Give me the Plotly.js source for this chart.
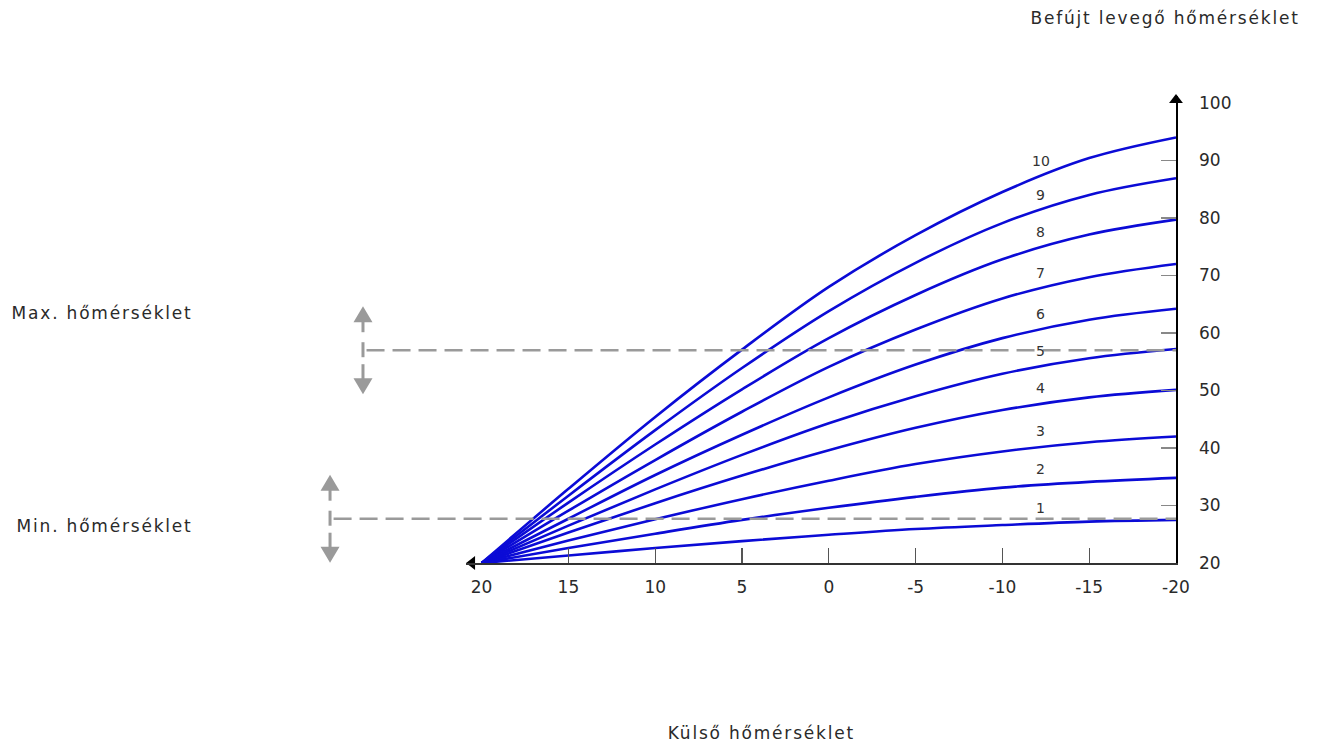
<!DOCTYPE html>
<html>
<head>
<meta charset="utf-8">
<script src="https://cdn.plot.ly/plotly-3.0.1.min.js"></script>
<style>
html,body{margin:0;padding:0;background:#fff;}
#chart{width:1318px;height:742px;}
#chart g.annotation[data-index="0"] text,
#chart g.annotation[data-index="1"] text,
#chart g.annotation[data-index="2"] text,
#chart g.annotation[data-index="3"] text{letter-spacing:1.8px;}
</style>
</head>
<body>
<div id="chart"></div>
<script>
// ---- data ----
const outsideTemps = [20, 15, 10, 5, 0, -5, -10, -15, -20];
const curveNames = ['1','2','3','4','5','6','7','8','9','10'];
const curve1  = [20, 21.3, 22.6, 23.8, 24.9, 25.9, 26.6, 27.2, 27.5];
const curve2  = [20, 22.6, 25.1, 27.5, 29.6, 31.5, 33.1, 34.1, 34.8];
const curve3  = [20, 23.9, 27.6, 31.1, 34.3, 37.2, 39.4, 41.0, 42.0];
const curve4  = [20, 25.3, 30.4, 35.2, 39.6, 43.5, 46.6, 48.8, 50.1];
const curve5  = [20, 26.5, 32.8, 38.8, 44.3, 49.0, 52.9, 55.6, 57.2];
const curve6  = [20, 27.7, 35.3, 42.3, 48.8, 54.5, 59.1, 62.3, 64.2];
const curve7  = [20, 29.1, 37.9, 46.3, 54.1, 60.6, 66.0, 69.7, 72.0];
const curve8  = [20, 30.5, 40.6, 50.2, 59.1, 66.6, 72.8, 77.1, 79.7];
const curve9  = [20, 31.7, 43.1, 53.9, 63.8, 72.2, 79.1, 84.0, 86.9];
const curve10 = [20, 32.9, 45.4, 57.1, 68.0, 77.0, 84.5, 90.4, 94.0];
const curves = [curve1, curve2, curve3, curve4, curve5, curve6, curve7, curve8, curve9, curve10];

const xTickVals = [20, 15, 10, 5, 0, -5, -10, -15, -20];
const xInnerTicks = [15, 10, 5, 0, -5, -10, -15];
const yTickVals = [20, 30, 40, 50, 60, 70, 80, 90, 100];
const yInnerTicks = [30, 40, 50, 60, 70, 80, 90];
const maxTemp = 57.0;
const minTemp = 27.7;
const labelX = -12.2;

const xTitle = 'Külső hőmérséklet';
const yTitle = 'Befújt levegő hőmérséklet';
const maxLabel = 'Max. hőmérséklet';
const minLabel = 'Min. hőmérséklet';

// ---- styling ----
const FONT = '"DejaVu Sans", "Open Sans", sans-serif';
const TXT = '#2a2a2a';
const BLUE = '#0b0bd6';
const GREY = '#9a9a9a';
const AXC = '#333333';
const xRange = [20.9, -20];
const yRange = [20, 101.2];
const toPaperY = v => (v - yRange[0]) / (yRange[1] - yRange[0]);

const traces = curves.map((c, i) => ({
  type: 'scatter', mode: 'lines',
  x: outsideTemps, y: c, name: curveNames[i],
  line: {color: BLUE, width: 2.6, shape: 'spline', smoothing: 1},
  hoverinfo: 'skip', showlegend: false
}));

// arrowheads at the axis ends (on the overlay axes)
traces.push({
  type: 'scatter', mode: 'markers', xaxis: 'x2', yaxis: 'y2',
  x: [xRange[0] - 0.35, -20], y: [20, yRange[1] - 0.7],
  marker: {symbol: ['triangle-left', 'triangle-up'], size: 12, color: '#000'},
  cliponaxis: false, hoverinfo: 'skip', showlegend: false
});

function interp(xs, ys, x) {
  for (let i = 0; i < xs.length - 1; i++) {
    const a = xs[i], b = xs[i + 1];
    if ((x <= a && x >= b) || (x >= a && x <= b)) {
      const t = (x - a) / (b - a);
      return ys[i] + t * (ys[i + 1] - ys[i]);
    }
  }
  return ys[ys.length - 1];
}

// titles first (indices 0-3), then curve labels
const titleFont = {family: FONT, size: 17, color: TXT};
const annotations = [
  {x: 0.794, y: 1, xref: 'paper', yref: 'paper', xanchor: 'left', yanchor: 'middle',
   xshift: 21, yshift: 78, text: yTitle, showarrow: false, font: titleFont},
  {x: 0.283, y: 0, xref: 'paper', yref: 'paper', xanchor: 'left', yanchor: 'middle',
   xshift: 14, yshift: -170, text: xTitle, showarrow: false, font: titleFont},
  {x: -0.642, y: toPaperY(maxTemp), xref: 'paper', yref: 'paper', xanchor: 'left', yanchor: 'middle',
   xshift: 14, yshift: 37, text: maxLabel, showarrow: false, font: titleFont},
  {x: -0.635, y: toPaperY(minTemp), xref: 'paper', yref: 'paper', xanchor: 'left', yanchor: 'middle',
   xshift: 14, yshift: -7, text: minLabel, showarrow: false, font: titleFont}
].concat(curves.map((c, i) => ({
  x: labelX, y: interp(outsideTemps, c, labelX), xref: 'x', yref: 'y',
  text: curveNames[i], showarrow: false, yshift: 16,
  font: {family: FONT, size: 14, color: '#333'}
})));

// threshold markers: dashed lines and double arrows
function thresholdShapes(value, xPaper) {
  const yp = toPaperY(value);
  const base = {xref: 'paper', yref: 'paper', xsizemode: 'pixel', ysizemode: 'pixel',
                xanchor: xPaper, yanchor: yp, layer: 'above'};
  return [
    {type: 'line', xref: 'paper', yref: 'paper', x0: xPaper + 0.005, x1: 1, y0: yp, y1: yp,
     line: {color: GREY, width: 2.6, dash: '18px,8px'}, layer: 'above'},
    Object.assign({type: 'path', path: 'M -9.5,28 L 9.5,28 L 0,44 Z',
                   fillcolor: GREY, line: {width: 0}}, base),
    Object.assign({type: 'path', path: 'M -9.5,-28 L 9.5,-28 L 0,-44 Z',
                   fillcolor: GREY, line: {width: 0}}, base),
    Object.assign({type: 'path', path: 'M 0,29 L 0,18', line: {color: GREY, width: 3}}, base),
    Object.assign({type: 'path', path: 'M 0,8 L 0,-7', line: {color: GREY, width: 3}}, base),
    Object.assign({type: 'path', path: 'M 0,-14 L 0,-29', line: {color: GREY, width: 3}}, base)
  ];
}
const shapes = [].concat(thresholdShapes(maxTemp, -0.1451), thresholdShapes(minTemp, -0.1915));

const layout = {
  width: 1318, height: 742,
  margin: {l: 466, r: 142, t: 96, b: 179},
  paper_bgcolor: '#fff', plot_bgcolor: '#fff',
  showlegend: false,
  xaxis: {
    range: xRange, tickvals: xTickVals, ticktext: xTickVals.map(String),
    ticks: '', showgrid: false, zeroline: false,
    showline: true, linecolor: AXC, linewidth: 1.6,
    ticklabelstandoff: 8,
    tickfont: {family: FONT, size: 17, color: TXT}, fixedrange: true
  },
  yaxis: {
    range: yRange, side: 'right', tickvals: yTickVals, ticktext: yTickVals.map(String),
    ticks: '', showgrid: false, zeroline: false,
    showline: true, linecolor: '#000', linewidth: 1.6,
    ticklabelstandoff: 18,
    tickfont: {family: FONT, size: 17, color: TXT}, fixedrange: true
  },
  xaxis2: {
    overlaying: 'x', anchor: 'y', range: xRange, tickvals: xInnerTicks,
    ticks: 'inside', ticklen: 15, tickwidth: 1.3, tickcolor: '#555',
    showticklabels: false, showgrid: false, zeroline: false, showline: false, fixedrange: true
  },
  yaxis2: {
    overlaying: 'y', anchor: 'x', side: 'right', range: yRange, tickvals: yInnerTicks,
    ticks: 'inside', ticklen: 15, tickwidth: 1.3, tickcolor: '#888',
    showticklabels: false, showgrid: false, zeroline: false, showline: false, fixedrange: true
  },
  annotations: annotations,
  shapes: shapes
};

Plotly.newPlot('chart', traces, layout, {displayModeBar: false, staticPlot: true});
</script>
</body>
</html>
